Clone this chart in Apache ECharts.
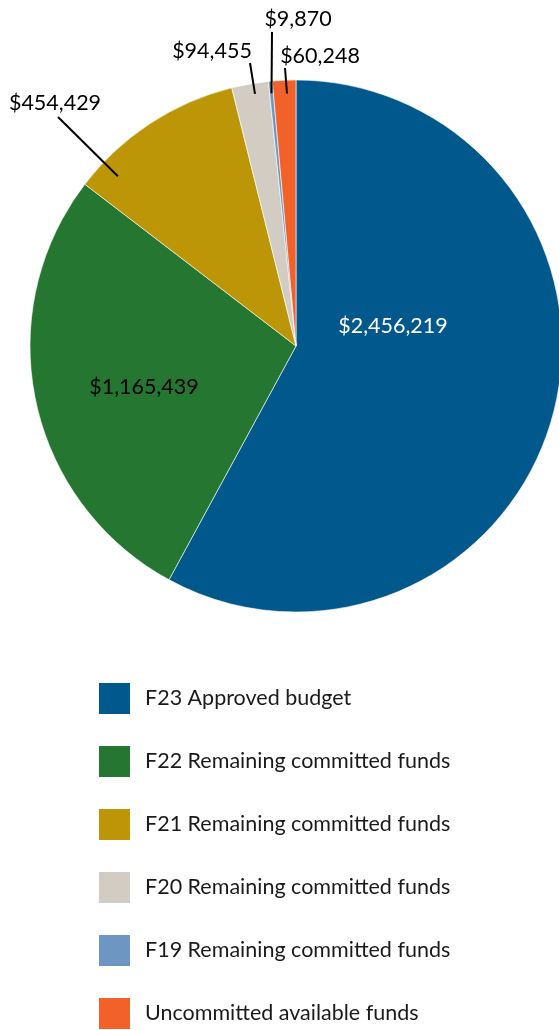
<!DOCTYPE html>
<html>
<head>
<meta charset="utf-8">
<script src="https://cdn.jsdelivr.net/npm/echarts@6/dist/echarts.min.js"></script>
<style>
  html, body { margin: 0; padding: 0; background: #ffffff; }
  #chart { width: 559px; height: 1030px; }
</style>
</head>
<body>
<div id="chart"></div>
<script>
// Funding sources that make up the F23 total
const categories = [
  'F23 Approved budget',
  'F22 Remaining committed funds',
  'F21 Remaining committed funds',
  'F20 Remaining committed funds',
  'F19 Remaining committed funds',
  'Uncommitted available funds'
];
const amounts = [2456219, 1165439, 454429, 94455, 9870, 60248];

// Styling kept apart from the values
const sliceColors = ['#00588C', '#247630', '#BC9606', '#D3CCC3', '#6D97C2', '#F2612A'];
const insideLabel = [true, true, false, false, false, false];
const insideLabelColor = ['#ffffff', '#000000'];
// Label centres, in pixels
const labelSpots = [[393, 326], [144, 387], [55, 103], [212, 51], [298, 19], [320, 56]];
// Leader lines: where they leave the slice (share of the slice's sweep, share of the radius)
const leaderStart = [null, null, [0.16, 0.925], [0.59, 0.96], [0.5, 0.955], [0.6, 0.95]];
// ...and where they meet their label
const leaderEnd = [null, null, [58, 117], [250, 63], [272, 32], [285, 68]];

const CENTER = [296, 346];
const RADIUS = 266;
const FONT = 'Lato, "Open Sans", sans-serif';

const money = v => '$' + v.toLocaleString('en-US');

// Sweep of every slice, clockwise from twelve o'clock, in degrees
const total = amounts.reduce((a, b) => a + b, 0);
const sweeps = [];
amounts.reduce((acc, v) => {
  const end = acc + v / total * 360;
  sweeps.push([acc, end]);
  return end;
}, 0);

function pointOnSlice(i, sweepShare, radiusShare) {
  const [a0, a1] = sweeps[i];
  const deg = a0 + (a1 - a0) * sweepShare;
  const rad = deg * Math.PI / 180;
  const r = RADIUS * radiusShare;
  return [CENTER[0] + r * Math.sin(rad), CENTER[1] - r * Math.cos(rad)];
}

// Coloured slices
const sliceData = categories.map((name, i) => ({
  name: name,
  value: amounts[i],
  itemStyle: { color: sliceColors[i] }
}));

// Same slices, drawn clear on top, so the value labels and their leader
// lines sit above every slice
const labelData = categories.map((name, i) => ({
  name: name,
  value: amounts[i],
  itemStyle: { color: 'rgba(0,0,0,0)', borderWidth: 0 },
  label: insideLabel[i]
    ? { position: 'inside', color: insideLabelColor[i] }
    : { position: 'outside', color: '#000000' },
  labelLine: insideLabel[i]
    ? { show: false }
    : { show: true, length: 20, length2: 0, lineStyle: { color: '#000000', width: 2 } }
}));

const chart = echarts.init(document.getElementById('chart'), null, { renderer: 'canvas' });
chart.setOption({
  animation: false,
  backgroundColor: '#ffffff',
  legend: {
    orient: 'vertical',
    left: 97,
    top: 681,
    height: 360,
    padding: 0,
    itemWidth: 33,
    itemHeight: 33,
    itemGap: 28,
    icon: 'rect',
    selectedMode: false,
    data: categories.map((name, i) => ({ name: name, itemStyle: { color: sliceColors[i] } })),
    textStyle: { fontFamily: FONT, fontSize: 21.5, color: '#1a1a1a', padding: [0, 0, 0, 9] }
  },
  series: [{
    type: 'pie',
    center: CENTER,
    radius: RADIUS,
    startAngle: 90,
    clockwise: true,
    silent: true,
    z: 2,
    itemStyle: { borderColor: '#ffffff', borderWidth: 0.6 },
    label: { show: false },
    labelLine: { show: false },
    data: sliceData
  }, {
    type: 'pie',
    center: CENTER,
    radius: RADIUS,
    startAngle: 90,
    clockwise: true,
    avoidLabelOverlap: false,
    silent: true,
    z: 5,
    label: {
      show: true,
      fontFamily: FONT,
      fontSize: 21.5,
      formatter: p => money(p.value)
    },
    labelLayout: params => {
      const i = params.dataIndex;
      const spot = labelSpots[i];
      const out = { x: spot[0], y: spot[1], align: 'center', verticalAlign: 'middle' };
      if (leaderStart[i]) {
        out.labelLinePoints = [pointOnSlice(i, leaderStart[i][0], leaderStart[i][1]), leaderEnd[i]];
      }
      return out;
    },
    data: labelData
  }]
});
</script>
</body>
</html>
